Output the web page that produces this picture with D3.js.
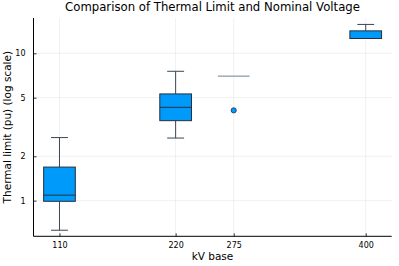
<!DOCTYPE html>
<html lang="en">
<head>
<meta charset="UTF-8">
<script src="https://cdn.jsdelivr.net/npm/d3@7"></script>
<title>Thermal limit boxplot</title>
<style>
  body { margin: 0; background: #fff; }
  text { font-family: "DejaVu Sans", sans-serif; fill: #000; }
</style>
</head>
<body>
<script>
    // kV bases and box statistics
    const kvBase = [110, 220, 275, 400];
    const lowWhisker = [0.63, 2.66, 7.0, 12.6];
    const q1 = [0.99, 3.49, 7.0, 12.6];
    const median = [1.09, 4.30, 7.0, 12.6];
    const q3 = [1.69, 5.30, 7.0, 14.2];
    const highWhisker = [2.68, 7.55, 7.0, 15.7];
    const outliers = [[], [], [4.1], []];
    const yTicks = [1, 2, 5, 10];

    const W = 399, H = 266;
    const plotL = 33.5, plotR = 391.7, plotT = 18, plotB = 236.3;
    const boxW = 30, capW = 16;

    const svg = d3.select("body").append("svg").attr("width", W).attr("height", H);

    const x = d3.scaleLinear().domain([85.4, 424.6]).range([plotL, plotR]);
    const y = d3.scaleLog().domain([0.573, 17.36]).range([plotB, plotT]);

    // grid
    svg.append("g").selectAll("line").data(kvBase).join("line")
        .attr("x1", d => x(d)).attr("x2", d => x(d))
        .attr("y1", plotT).attr("y2", plotB)
        .attr("stroke", "#000").attr("stroke-opacity", 0.1).attr("stroke-width", 0.6);
    svg.append("g").selectAll("line").data(yTicks).join("line")
        .attr("x1", plotL).attr("x2", plotR)
        .attr("y1", d => y(d)).attr("y2", d => y(d))
        .attr("stroke", "#000").attr("stroke-opacity", 0.1).attr("stroke-width", 0.6);

    // axes
    const xAxis = svg.append("g").attr("transform", "translate(0," + plotB + ")")
        .call(d3.axisBottom(x).tickValues(kvBase).tickSize(-3).tickPadding(6).tickFormat(d3.format("d")));
    const yAxis = svg.append("g").attr("transform", "translate(" + plotL + ",0)")
        .call(d3.axisLeft(y).tickValues(yTicks).tickSize(-3).tickPadding(8).tickFormat(d3.format("d")));
    [xAxis, yAxis].forEach(a => {
        a.select(".domain").remove();
        a.selectAll("line").attr("stroke", "#000").attr("stroke-width", 0.8);
        a.selectAll("text").style("font-size", "8px").attr("font-family", "DejaVu Sans, sans-serif").attr("fill", "#000");
    });
    svg.append("line").attr("x1", plotL).attr("x2", plotR).attr("y1", plotB).attr("y2", plotB)
        .attr("stroke", "#000").attr("stroke-width", 1);
    svg.append("line").attr("x1", plotL).attr("x2", plotL).attr("y1", plotT).attr("y2", plotB)
        .attr("stroke", "#000").attr("stroke-width", 1);

    const lineCol = "#3a4656";
    const boxes = svg.append("g").selectAll("g").data(kvBase).join("g");

    // whiskers (skipped when a box has no spread)
    const spread = (i) => highWhisker[i] > lowWhisker[i];
    boxes.filter((d, i) => spread(i)).each(function (d) {
        const i = kvBase.indexOf(d);
        const g = d3.select(this);
        g.append("line")
            .attr("x1", x(d)).attr("x2", x(d))
            .attr("y1", y(highWhisker[i])).attr("y2", y(q3[i]))
            .attr("stroke", lineCol).attr("stroke-width", 1);
        g.append("line")
            .attr("x1", x(d)).attr("x2", x(d))
            .attr("y1", y(lowWhisker[i])).attr("y2", y(q1[i]))
            .attr("stroke", lineCol).attr("stroke-width", 1);
        g.append("line")
            .attr("x1", x(d - capW / 2)).attr("x2", x(d + capW / 2))
            .attr("y1", y(highWhisker[i])).attr("y2", y(highWhisker[i]))
            .attr("stroke", lineCol).attr("stroke-width", 1);
        if (lowWhisker[i] < q1[i]) {
            g.append("line")
                .attr("x1", x(d - capW / 2)).attr("x2", x(d + capW / 2))
                .attr("y1", y(lowWhisker[i])).attr("y2", y(lowWhisker[i]))
                .attr("stroke", lineCol).attr("stroke-width", 1);
        }
    });

    // box
    boxes.append("rect")
        .attr("x", d => x(d - boxW / 2))
        .attr("width", d => x(d + boxW / 2) - x(d - boxW / 2))
        .attr("y", (d, i) => y(q3[i]))
        .attr("height", (d, i) => y(q1[i]) - y(q3[i]))
        .attr("fill", "#009afa").attr("stroke", "#26303c").attr("stroke-width", 1);
    boxes.append("line")
        .attr("x1", d => x(d - boxW / 2)).attr("x2", d => x(d + boxW / 2))
        .attr("y1", (d, i) => y(median[i])).attr("y2", (d, i) => y(median[i]))
        .attr("stroke", (d, i) => spread(i) ? "#26303c" : "#6b8094").attr("stroke-width", 1);

    // outliers
    boxes.each(function (d, i) {
        d3.select(this).selectAll("circle").data(outliers[i]).join("circle")
            .attr("cx", x(d)).attr("cy", v => y(v)).attr("r", 2.6)
            .attr("fill", "#009afa").attr("stroke", "#26303c").attr("stroke-width", 0.8);
    });

    // titles
    svg.append("text").attr("x", 212.5).attr("y", 10.5).attr("text-anchor", "middle")
        .style("font-size", "11.7px").text("Comparison of Thermal Limit and Nominal Voltage");
    svg.append("text").attr("x", 212.5).attr("y", 260).attr("text-anchor", "middle")
        .style("font-size", "10.5px").text("kV base");
    svg.append("text").attr("transform", "translate(11," + ((plotT + plotB) / 2) + ") rotate(-90)")
        .attr("text-anchor", "middle").style("font-size", "10.5px").text("Thermal limit (pu) (log scale)");
</script>
</body>
</html>
